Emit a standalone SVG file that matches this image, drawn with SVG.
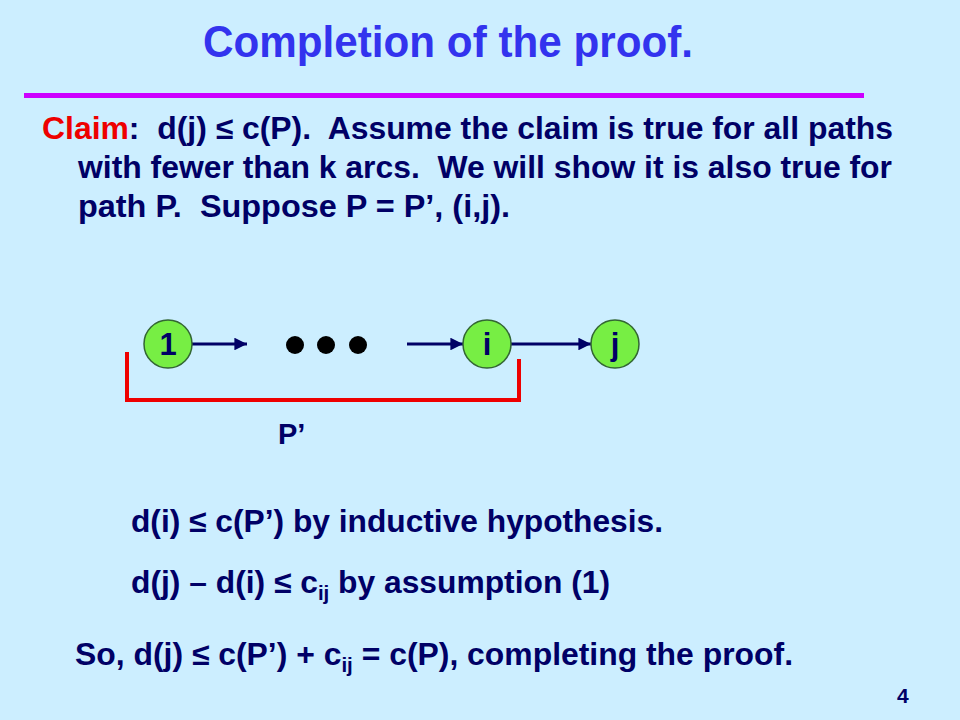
<svg xmlns="http://www.w3.org/2000/svg" width="960" height="720" viewBox="0 0 960 720">
<defs>
<style>
.t{font-family:"Liberation Sans",Arial,sans-serif;font-weight:bold;fill:#000066}
.title{font-family:"Liberation Sans",Arial,sans-serif;font-weight:bold;fill:#3333EE;font-size:44px}
.node{fill:#77EE44;stroke:#336633;stroke-width:1.5}
.lbl{font-family:"Liberation Sans",Arial,sans-serif;font-weight:bold;fill:#000066;font-size:31px;text-anchor:middle}
.arc{stroke:#000066;stroke-width:3;fill:none}
</style>
<marker id="ah" viewBox="0 0 10 10" refX="10" refY="5" markerWidth="4.5" markerHeight="4.2" orient="auto" markerUnits="strokeWidth">
<path d="M0,0 L10,5 L0,10 z" fill="#000066"/>
</marker>
</defs>
<rect width="960" height="720" fill="#CCEEFF"/>
<text class="title" x="203" y="57" textLength="490" lengthAdjust="spacingAndGlyphs">Completion of the proof.</text>
<line x1="24" y1="95.5" x2="864" y2="95.5" stroke="#CC00FF" stroke-width="5"/>
<g id="claim" class="t" font-size="31">
<text x="42" y="139" textLength="851" lengthAdjust="spacingAndGlyphs"><tspan fill="#EE0000">Claim</tspan>:&#160; d(j) ≤ c(P).&#160; Assume the claim is true for all paths</text>
<text x="78" y="178" textLength="814" lengthAdjust="spacingAndGlyphs">with fewer than k arcs.&#160; We will show it is also true for</text>
<text x="78" y="217" textLength="432" lengthAdjust="spacingAndGlyphs">path P.&#160; Suppose P = P’, (i,j).</text>
</g>
<g id="connectors">
<line class="arc" x1="192" y1="344" x2="247" y2="344" marker-end="url(#ah)"/>
<line class="arc" x1="407" y1="344" x2="463" y2="344" marker-end="url(#ah)"/>
<line class="arc" x1="511" y1="344" x2="591" y2="344" marker-end="url(#ah)"/>
</g>
<g id="dots" fill="#000000">
<circle cx="295" cy="345" r="9"/>
<circle cx="326" cy="345" r="9"/>
<circle cx="358" cy="345" r="9"/>
</g>
<g id="node-1"><circle class="node" cx="168" cy="344" r="24"/><text class="lbl" x="168" y="355">1</text></g>
<g id="node-i"><circle class="node" cx="487" cy="344" r="24"/><text class="lbl" x="487" y="355">i</text></g>
<g id="node-j"><circle class="node" cx="615" cy="344" r="24"/><text class="lbl" x="615" y="355">j</text></g>
<g id="bracket">
<path d="M127,352 V400 H519 V359" fill="none" stroke="#EE0000" stroke-width="4"/>
<text class="t" x="278" y="444" font-size="29">P’</text>
</g>
<g id="proof" class="t" font-size="31">
<text x="131" y="532" textLength="532" lengthAdjust="spacingAndGlyphs">d(i) ≤ c(P’) by inductive hypothesis.</text>
<text x="131" y="593" textLength="479" lengthAdjust="spacingAndGlyphs">d(j) – d(i) ≤ c<tspan font-size="20" dy="7">ij</tspan><tspan dy="-7"> by assumption (1)</tspan></text>
<text x="75" y="665" textLength="718" lengthAdjust="spacingAndGlyphs">So, d(j) ≤ c(P’) + c<tspan font-size="20" dy="7">ij</tspan><tspan dy="-7"> = c(P), completing the proof.</tspan></text>
<text x="897" y="703" font-size="21">4</text>
</g>
</svg>
